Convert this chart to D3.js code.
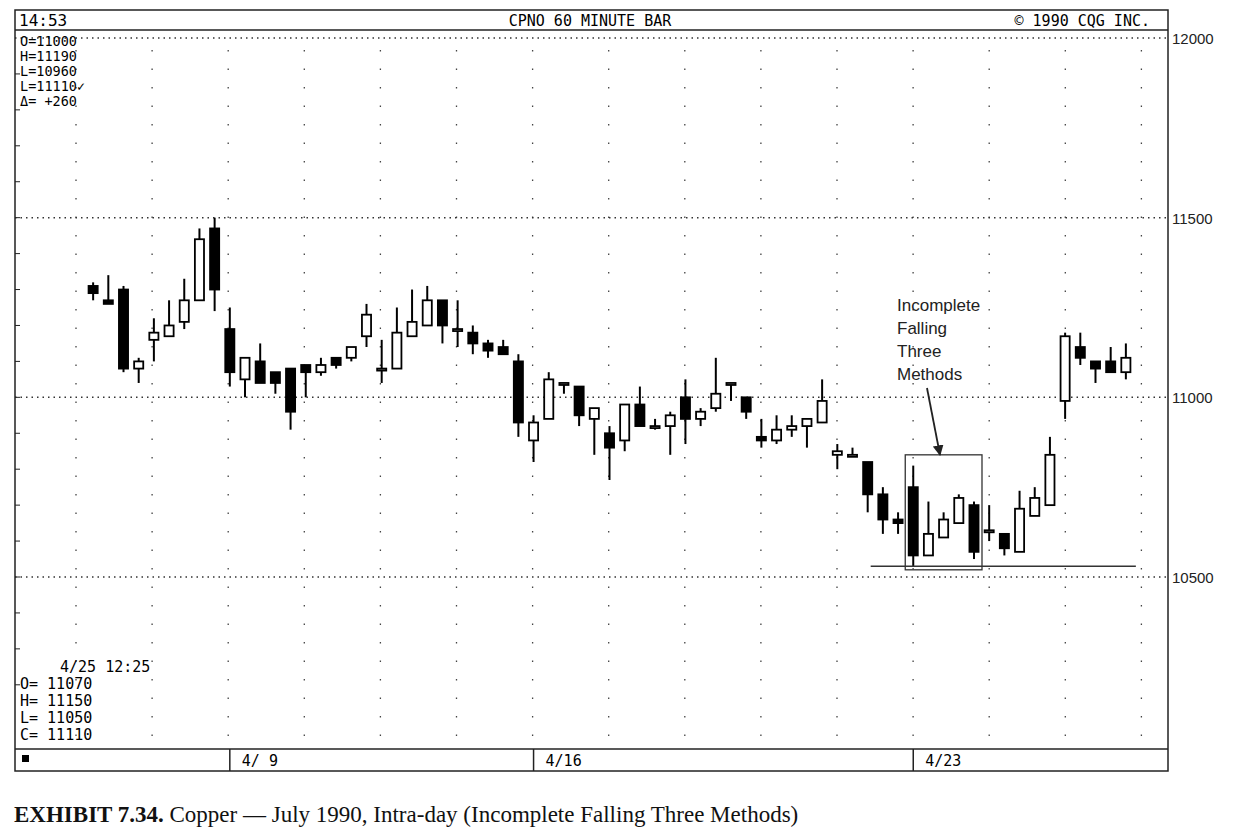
<!DOCTYPE html><html><head><meta charset="utf-8">
<script src="https://cdn.jsdelivr.net/npm/d3@7"></script>
<style>body{margin:0;background:#fff}</style></head><body>
<svg id="c" width="1250" height="830"></svg>
<script>
const opens =[11310,11270,11300,11080,11160,11170,11210,11270,11470,11190,11050,11100,11070,11080,11090,11070,11110,11110,11170,11080,11080,11170,11200,11270,11190,11180,11150,11140,11100,10880,10940,11040,11030,10940,10900,10880,10980,10920,10920,11000,10940,10970,11040,11000,10890,10880,10910,10920,10930,10840,10840,10820,10730,10660,10750,10560,10610,10650,10700,10630,10620,10570,10670,10700,10990,11140,11100,11100,11070];
const highs =[11320,11340,11310,11110,11220,11270,11330,11470,11500,11250,11110,11150,11070,11080,11090,11110,11110,11140,11260,11160,11250,11300,11310,11270,11270,11200,11160,11160,11120,10950,11070,11040,11030,10970,10920,10980,11030,10940,10960,11050,10970,11110,11040,11000,10940,10950,10950,10940,11050,10870,10860,10820,10750,10680,10810,10710,10680,10730,10710,10700,10620,10740,10750,10890,11180,11180,11100,11140,11150];
const lows  =[11270,11260,11070,11040,11100,11170,11190,11270,11240,11030,11000,11040,11010,10910,11000,11060,11080,11100,11140,11040,11080,11170,11200,11150,11140,11120,11110,11120,10890,10820,10940,11010,10920,10840,10770,10850,10920,10910,10840,10870,10920,10960,10990,10940,10860,10870,10890,10860,10930,10800,10840,10680,10620,10620,10530,10560,10610,10650,10550,10600,10560,10570,10670,10700,10940,11090,11040,11070,11050];
const closes=[11290,11260,11080,11100,11180,11200,11270,11440,11300,11070,11110,11040,11040,10960,11070,11090,11090,11140,11230,11080,11180,11210,11270,11200,11190,11150,11130,11120,10930,10930,11050,11040,10950,10970,10860,10980,10920,10920,10950,10940,10960,11010,11040,10960,10880,10910,10920,10940,10990,10850,10840,10730,10660,10650,10560,10620,10660,10720,10570,10630,10580,10690,10720,10840,11170,11110,11080,11070,11110];
const priceTicks=[12000,11500,11000,10500];
const dateLabels=[{t:"4/ 9",i:9},{t:"4/16",i:29},{t:"4/23",i:54}];
const headerTexts=["14:53","CPNO 60 MINUTE BAR","©  1990 CQG INC."];
const infoTop=["O=11000","H=11190","L=10960","L=11110✓","Δ= +260"];
const infoBot=["4/25 12:25","O= 11070","H= 11150","L= 11050","C= 11110"];
const annText=["Incomplete","Falling","Three","Methods"];
const supportLevel=10530;

const svg=d3.select("#c");
const L=15,R=1168,T=10,B=771;
const y=d3.scaleLinear().domain([10500,12000]).range([577,38]);
const x=d3.scaleBand().domain(d3.range(opens.length)).range([82.5,1136.5]).padding(0.4);
const cx=i=>x(i)+x.bandwidth()/2;
const mono="DejaVu Sans Mono";

for(let gx=76;gx<1160;gx+=76.1){
  svg.append("line").attr("x1",gx).attr("x2",gx).attr("y1",50).attr("y2",745)
   .attr("stroke","#444").attr("stroke-width",1.3).attr("stroke-dasharray","1.5,17");
}
priceTicks.forEach(p=>{
  svg.append("line").attr("x1",L).attr("x2",R).attr("y1",y(p)).attr("y2",y(p))
   .attr("stroke","#333").attr("stroke-width",1.5).attr("stroke-dasharray","1.5,4");
  svg.append("text").attr("x",R+4).attr("y",y(p)+6).text(p)
   .attr("font-family","Liberation Sans").attr("font-size",15).attr("fill","#222");
});
d3.range(10200,12000,100).forEach(p=>{
  svg.append("line").attr("x1",L).attr("x2",L+5).attr("y1",y(p)).attr("y2",y(p)).attr("stroke","#222");
});
svg.append("rect").attr("x",L).attr("y",T).attr("width",R-L).attr("height",B-T).attr("fill","none").attr("stroke","#222").attr("stroke-width",1.5);
svg.append("line").attr("x1",L).attr("x2",R).attr("y1",30).attr("y2",30).attr("stroke","#222").attr("stroke-width",1.5);
svg.append("line").attr("x1",L).attr("x2",R).attr("y1",749).attr("y2",749).attr("stroke","#222").attr("stroke-width",1.5);
svg.append("text").attr("x",L+4).attr("y",26).text(headerTexts[0]).attr("font-family",mono).attr("font-size",16);
svg.append("text").attr("x",590).attr("y",26).attr("text-anchor","middle").text(headerTexts[1]).attr("font-family",mono).attr("font-size",15);
svg.append("text").attr("x",1150).attr("y",26).attr("text-anchor","end").text(headerTexts[2]).attr("font-family",mono).attr("font-size",15);
svg.append("rect").attr("x",22).attr("y",755).attr("width",7).attr("height",7).attr("fill","#000");
dateLabels.forEach(d=>{
  const xx=cx(d.i);
  svg.append("line").attr("x1",xx).attr("x2",xx).attr("y1",749).attr("y2",771).attr("stroke","#222").attr("stroke-width",1.5);
  svg.append("text").attr("x",xx+12).attr("y",766).text(d.t).attr("font-family",mono).attr("font-size",15);
});
infoTop.forEach((t,k)=>svg.append("text").attr("x",20).attr("y",46+k*15).text(t).attr("font-family",mono).attr("font-size",13.5));
infoBot.forEach((t,k)=>svg.append("text").attr("x",k?20:60).attr("y",672+k*17).text(t).attr("font-family",mono).attr("font-size",15));

const g=svg.append("g");
opens.forEach((o,i)=>{
  const c=closes[i],up=c>=o;
  g.append("line").attr("x1",cx(i)).attr("x2",cx(i)).attr("y1",y(highs[i])).attr("y2",y(lows[i])).attr("stroke","#000").attr("stroke-width",2);
  const top=y(Math.max(o,c)),h=Math.max(2,Math.abs(y(o)-y(c)));
  g.append("rect").attr("x",x(i)).attr("y",top).attr("width",x.bandwidth()).attr("height",h)
   .attr("fill",up?"#fff":"#000").attr("stroke","#000").attr("stroke-width",1.8);
});

svg.append("line").attr("x1",cx(51)+3).attr("x2",cx(68)+10).attr("y1",y(supportLevel)).attr("y2",y(supportLevel)).attr("stroke","#333").attr("stroke-width",1.5);
svg.append("rect").attr("x",cx(54)-8).attr("y",y(10840)).attr("width",cx(58)-cx(54)+16).attr("height",y(10520)-y(10840)).attr("fill","none").attr("stroke","#333").attr("stroke-width",1.3);
annText.forEach((t,k)=>svg.append("text").attr("x",897).attr("y",311+k*23).text(t).attr("font-family","Liberation Sans").attr("font-size",17).attr("fill","#222"));
svg.append("defs").append("marker").attr("id","ar").attr("viewBox","0 0 10 10").attr("refX",9).attr("refY",5).attr("markerWidth",6).attr("markerHeight",6).attr("orient","auto")
 .append("path").attr("d","M0,0L10,5L0,10z").attr("fill","#222");
svg.append("line").attr("x1",927).attr("y1",388).attr("x2",940).attr("y2",455).attr("stroke","#222").attr("stroke-width",1.8).attr("marker-end","url(#ar)");

const cap=svg.append("text").attr("x",14).attr("y",822).attr("font-family","Liberation Serif").attr("font-size",23).attr("fill","#111");
cap.append("tspan").attr("font-weight","bold").text("EXHIBIT 7.34.");
cap.append("tspan").text("  Copper — July 1990, Intra-day (Incomplete Falling Three Methods)");
</script></body></html>
